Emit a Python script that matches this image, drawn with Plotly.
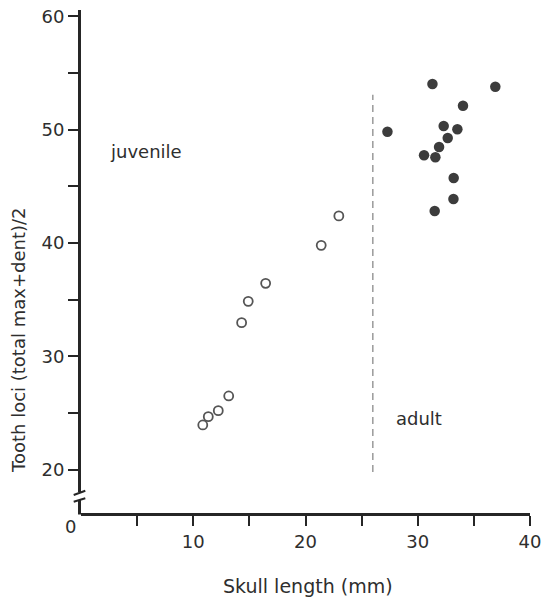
import plotly.graph_objects as go

# ---- data ----
juvenile_x = [10.85, 11.34, 12.23, 13.16, 14.31, 14.90, 16.45, 21.40, 22.97]
juvenile_y = [23.95, 24.68, 25.21, 26.51, 32.98, 34.86, 36.45, 39.80, 42.40]

adult_x = [31.31, 36.91, 34.03, 27.30, 32.31, 33.53, 32.67, 31.90, 30.56, 31.57, 33.20, 33.18, 31.51]
adult_y = [54.04, 53.80, 52.12, 49.83, 50.33, 50.04, 49.27, 48.48, 47.75, 47.57, 45.74, 43.89, 42.83]

divider_x = [26, 26]
divider_y = [19.8, 53.1]

x_tickvals = [5, 10, 15, 20, 25, 30, 35, 40]
x_ticktext = ["", "10", "", "20", "", "30", "", "40"]
y_tickvals = [20, 25, 30, 35, 40, 45, 50, 55, 60]
y_ticktext = ["20", "", "30", "", "40", "", "50", "", "60"]

X_RANGE = [0, 40]
Y_RANGE = [16.18, 60.57]

# ---- layout geometry (pixels) ----
W, H = 543, 598
L, R, T, B = 81, 13, 10, 85
PW = W - L - R
PH = H - T - B
AXIS_BOTTOM = H - B

def px_x(px):
    return (px - L) / PW

def px_y(py):
    return (AXIS_BOTTOM - py) / PH

INK = "#262626"
TXT = "#2e2e2e"
FONT = "DejaVu Sans, Liberation Sans, Arial, sans-serif"

fig = go.Figure()

fig.add_trace(go.Scatter(
    x=divider_x, y=divider_y, mode="lines",
    line=dict(color="#808080", width=1.2, dash="7px,5px"),
    showlegend=False, hoverinfo="skip"))

fig.add_trace(go.Scatter(
    x=juvenile_x, y=juvenile_y, mode="markers", name="juvenile",
    marker=dict(symbol="circle-open", size=9, color="#555555",
                line=dict(width=1.8, color="#555555")),
    showlegend=False))

fig.add_trace(go.Scatter(
    x=adult_x, y=adult_y, mode="markers", name="adult",
    marker=dict(symbol="circle", size=10.5, color="#3c3c3c",
                line=dict(width=0)),
    showlegend=False))

# y-axis line with break (drawn as shapes)
shapes = [
    dict(type="line", xref="paper", yref="paper",
         x0=px_x(79.5), x1=px_x(79.5), y0=px_y(T), y1=px_y(492),
         line=dict(color=INK, width=3)),
    dict(type="line", xref="paper", yref="paper",
         x0=px_x(73.7), x1=px_x(85.3), y0=px_y(495), y1=px_y(490.7),
         line=dict(color=INK, width=2)),
    dict(type="line", xref="paper", yref="paper",
         x0=px_x(73.7), x1=px_x(85.3), y0=px_y(501.7), y1=px_y(498.3),
         line=dict(color=INK, width=2)),
    dict(type="line", xref="paper", yref="paper",
         x0=px_x(79.5), x1=px_x(79.5), y0=px_y(500), y1=px_y(AXIS_BOTTOM + 1.5),
         line=dict(color=INK, width=3)),
]

annotations = [
    dict(text="juvenile", xref="paper", yref="paper", x=px_x(145.7), y=px_y(151),
         showarrow=False, font=dict(size=18, color=TXT, family=FONT),
         xanchor="center", yanchor="middle"),
    dict(text="adult", xref="paper", yref="paper", x=px_x(419), y=px_y(418),
         showarrow=False, font=dict(size=18, color=TXT, family=FONT),
         xanchor="center", yanchor="middle"),
    dict(text="0", xref="paper", yref="paper", x=px_x(70), y=px_y(526),
         showarrow=False, font=dict(size=18, color=TXT, family=FONT),
         xanchor="center", yanchor="middle"),
    dict(text="Skull length (mm)", xref="paper", yref="paper", x=px_x(308), y=px_y(586),
         showarrow=False, font=dict(size=19, color=TXT, family=FONT),
         xanchor="center", yanchor="middle"),
    dict(text="Tooth loci (total max+dent)/2", xref="paper", yref="paper",
         x=px_x(19), y=px_y(340), textangle=-90,
         showarrow=False, font=dict(size=18, color=TXT, family=FONT),
         xanchor="center", yanchor="middle"),
]

fig.update_layout(
    width=W, height=H,
    margin=dict(l=L, r=R, t=T, b=B, pad=0, autoexpand=False),
    paper_bgcolor="white", plot_bgcolor="white",
    font=dict(family=FONT, size=18, color=TXT),
    shapes=shapes, annotations=annotations,
    showlegend=False,
)

fig.update_xaxes(
    range=X_RANGE, showgrid=False, zeroline=False, automargin=False,
    showline=True, linecolor=INK, linewidth=3,
    ticks="outside", ticklen=10, tickwidth=2, tickcolor=INK,
    tickvals=x_tickvals, ticktext=x_ticktext,
    tickfont=dict(size=18, color=TXT, family=FONT),
)
fig.update_yaxes(
    range=Y_RANGE, showgrid=False, zeroline=False, automargin=False,
    showline=False,
    ticks="outside", ticklen=12, tickwidth=2, tickcolor=INK,
    tickvals=y_tickvals, ticktext=y_ticktext,
    tickfont=dict(size=18, color=TXT, family=FONT),
)

fig.write_html(
    "out.html",
    config={"displayModeBar": False},
    post_script="document.body.style.margin='0';document.body.style.padding='0';document.body.style.overflow='hidden';",
)
